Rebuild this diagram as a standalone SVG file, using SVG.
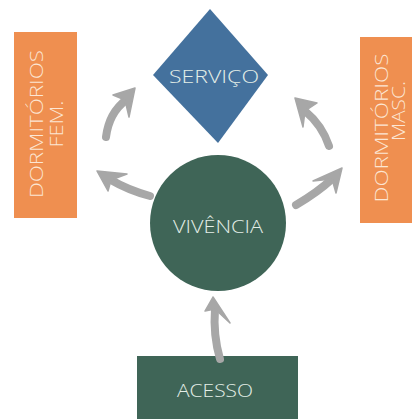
<svg xmlns="http://www.w3.org/2000/svg" width="412" height="419" viewBox="0 0 412 419">
<style>
.lbl{font-family:"Open Sans","Liberation Sans",sans-serif;font-weight:300;font-size:19px;text-anchor:middle}
.lt{fill:#e4efe8}
.lo{fill:#fce6d4}
.orange{fill:#ef8f50}
.green{fill:#3f6557}
.blue{fill:#44719d}
.shaft{fill:none;stroke:#a7a7a7;stroke-width:8;stroke-linecap:round}
.head{fill:#a7a7a7;stroke:#a7a7a7;stroke-width:1.5;stroke-linejoin:round}
</style>
<rect width="412" height="419" fill="#ffffff"/>
<g id="fem">
<rect class="orange" x="14" y="32" width="63" height="186"/>
<text class="lbl lo" transform="translate(43,124) rotate(-90)" textLength="148" lengthAdjust="spacingAndGlyphs">DORMITÓRIOS</text>
<text class="lbl lo" transform="translate(63,124) rotate(-90)" textLength="47" lengthAdjust="spacingAndGlyphs">FEM.</text>
</g>
<g id="masc">
<rect class="orange" x="360" y="37" width="63" height="186"/>
<text class="lbl lo" transform="translate(388,128) rotate(-90)" textLength="149" lengthAdjust="spacingAndGlyphs">DORMITÓRIOS</text>
<text class="lbl lo" transform="translate(405,111) rotate(-90)" textLength="60" lengthAdjust="spacingAndGlyphs">MASC.</text>
</g>
<g id="servico">
<polygon class="blue" points="210,9 268,75 218,143 153,75"/>
<text class="lbl lt" x="214" y="83" textLength="90" lengthAdjust="spacingAndGlyphs">SERVIÇO</text>
</g>
<g id="vivencia">
<circle class="green" cx="218" cy="223" r="68"/>
<text class="lbl lt" x="218" y="233" textLength="90" lengthAdjust="spacingAndGlyphs">VIVÊNCIA</text>
</g>
<g id="acesso">
<rect class="green" x="137" y="356" width="161" height="70"/>
<text class="lbl lt" x="215" y="397" textLength="76" lengthAdjust="spacingAndGlyphs">ACESSO</text>
</g>
<g id="connectors">
<path class="shaft" d="M106 137 Q109 113 126 100"/>
<path class="head" d="M135 88 L113 95 L125 100 L129 117 Z"/>
<path class="shaft" d="M150 196 Q128 190 111 180"/>
<path class="head" d="M97 171 L127 174 L111 180 L108 191 Z"/>
<path class="shaft" d="M329 146 Q322 125 305 111"/>
<path class="head" d="M295 98 L317 103 L305 111 L303 127 Z"/>
<path class="shaft" d="M296 205 Q318 192 332 179"/>
<path class="head" d="M342 168 L313 181 L332 179 L336 193 Z"/>
<path class="shaft" d="M220 359 Q213 335 215 309"/>
<path class="head" d="M213 297 L205 311 L215 309 L230 323 Z"/>
</g>
</svg>
